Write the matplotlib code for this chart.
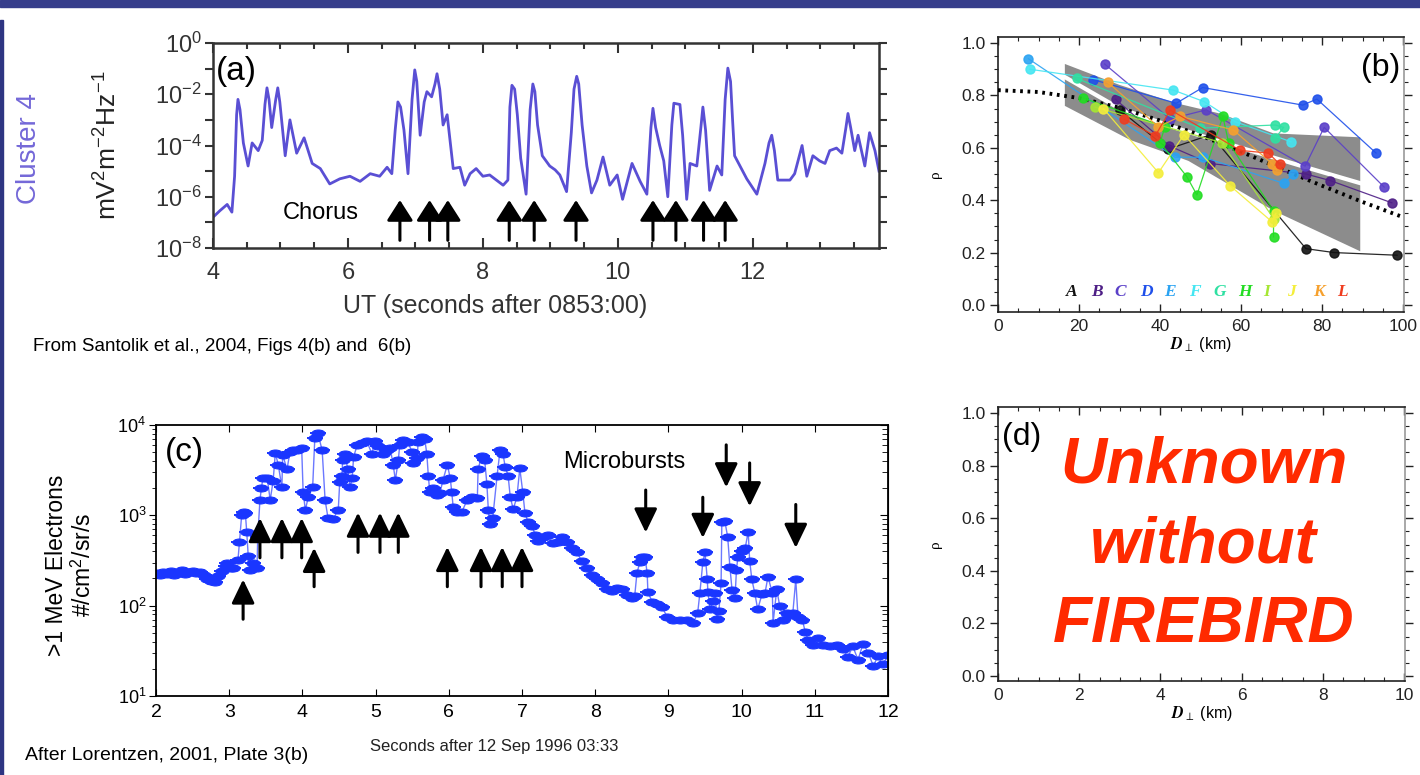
import numpy as np
import matplotlib.pyplot as plt
from matplotlib import ticker
from matplotlib.path import Path
from matplotlib.patches import Rectangle

plt.rcParams['font.family'] = ['Liberation Sans', 'DejaVu Sans']
plt.rcParams['mathtext.fontset'] = 'stix'

# ---- panel (a): Cluster 4 chorus wave power, (UT s, log10 mV^2 m^-2 Hz^-1)
a_trace = [(4.00, -6.8), (4.10, -6.55), (4.21, -6.3), (4.28, -6.6), (4.32, -5.2),
           (4.35, -2.8), (4.37, -2.2), (4.40, -2.6), (4.45, -3.9), (4.52, -4.8),
           (4.58, -3.9), (4.67, -4.2), (4.73, -3.8), (4.77, -2.4), (4.80, -1.75),
           (4.83, -2.2), (4.87, -3.3), (4.93, -2.2), (4.96, -1.75), (4.99, -2.3),
           (5.07, -4.4), (5.14, -3.0), (5.24, -4.3), (5.35, -3.7), (5.47, -4.7),
           (5.59, -4.9), (5.73, -5.5), (5.88, -5.3), (6.03, -5.2), (6.18, -5.4),
           (6.33, -5.1), (6.47, -5.2), (6.58, -4.85), (6.65, -5.1), (6.70, -3.4),
           (6.74, -2.3), (6.78, -2.5), (6.83, -3.4), (6.89, -5.1), (6.95, -2.2),
           (6.99, -1.05), (7.02, -1.5), (7.07, -3.6), (7.13, -2.3), (7.17, -1.9),
           (7.24, -2.1), (7.29, -1.6), (7.32, -1.2), (7.36, -1.8), (7.41, -3.2),
           (7.47, -2.8), (7.56, -4.9), (7.66, -4.85), (7.73, -5.55), (7.81, -5.1),
           (7.90, -4.9), (8.00, -5.2), (8.10, -5.15), (8.30, -5.55), (8.37, -5.35),
           (8.40, -2.5), (8.43, -1.65), (8.47, -1.8), (8.51, -2.8), (8.56, -4.5),
           (8.64, -5.9), (8.70, -2.6), (8.74, -1.6), (8.77, -1.9), (8.81, -3.2),
           (8.88, -4.4), (8.99, -4.8), (9.07, -4.95), (9.14, -5.15), (9.24, -5.8),
           (9.31, -3.5), (9.35, -1.8), (9.39, -1.3), (9.42, -1.6), (9.47, -3.2),
           (9.54, -4.8), (9.61, -5.85), (9.69, -5.35), (9.78, -4.45), (9.88, -5.55),
           (9.99, -5.15), (10.07, -6.1), (10.21, -4.7), (10.33, -5.4), (10.43, -5.9),
           (10.49, -3.3), (10.52, -2.55), (10.56, -3.3), (10.62, -4.0), (10.68, -4.6),
           (10.74, -6.0), (10.80, -3.2), (10.83, -2.35), (10.92, -2.4), (10.96, -3.6),
           (11.02, -6.1), (11.07, -4.7), (11.17, -4.8), (11.23, -3.3), (11.26, -2.5),
           (11.30, -3.4), (11.36, -5.75), (11.47, -4.8), (11.54, -5.15), (11.59, -2.2),
           (11.63, -0.98), (11.67, -1.5), (11.70, -3.0), (11.73, -4.4), (11.91, -5.3),
           (12.06, -5.9), (12.18, -4.7), (12.24, -3.9), (12.28, -3.6), (12.32, -4.2),
           (12.37, -5.35), (12.55, -5.35), (12.62, -5.1), (12.73, -4.0), (12.80, -5.2),
           (12.89, -4.4), (12.99, -4.6), (13.07, -4.7), (13.14, -4.2), (13.24, -4.1),
           (13.32, -4.3), (13.38, -3.3), (13.41, -2.75), (13.45, -3.3), (13.51, -4.2),
           (13.56, -3.6), (13.66, -4.8), (13.73, -3.5), (13.81, -4.2), (13.87, -5.0)]
t_a = [p[0] for p in a_trace]
lg_a = [p[1] for p in a_trace]
chorus_t = [6.77, 7.21, 7.48, 8.39, 8.76, 9.38, 10.52, 10.86, 11.27, 11.59]
chorus_tip = 10.0 ** -6.13
chorus_tail = 10.0 ** -7.7

# ---- panel (b): correlation vs separation, events A-L
ev_names = ['A', 'B', 'C', 'D', 'E', 'F', 'G', 'H', 'I', 'J', 'K', 'L']
ev_colors = ['#111111', '#4e1f86', '#5a3fc8', '#1f50ea', '#2ba3f2', '#45e6f2',
             '#2fe0a2', '#22dd22', '#a6e633', '#f4ee3a', '#f6a12e', '#f03c1e']
ev_x = [[30, 42, 52.5, 76, 83, 98.5],
        [29, 42.3, 52.3, 76, 82, 97.2],
        [26.3, 42.5, 51.4, 75.8, 80.5, 95.3],
        [23.5, 44, 50.5, 75.2, 78.7, 93.3],
        [7.5, 43.7, 50.7, 70.6, 72.9],
        [7.8, 43.3, 50.9, 58.5, 72.3],
        [19.4, 49.9, 68.4, 70.5, 68.4],
        [21, 41.2, 40, 46.6, 49.1, 55.5, 56.9, 68, 68],
        [24, 55.2, 68],
        [26, 39.6, 45.9, 57.3, 67.6, 68.6],
        [27.1, 39.6, 45, 58.1, 67.6, 68.8],
        [31.1, 38.8, 42.5, 59.8, 66.7, 69.6]]
ev_y = [[0.745, 0.595, 0.65, 0.215, 0.20, 0.19],
        [0.785, 0.607, 0.54, 0.50, 0.475, 0.39],
        [0.92, 0.71, 0.745, 0.53, 0.678, 0.45],
        [0.86, 0.77, 0.83, 0.763, 0.786, 0.58],
        [0.94, 0.564, 0.564, 0.464, 0.50],
        [0.90, 0.82, 0.776, 0.70, 0.623],
        [0.865, 0.675, 0.687, 0.678, 0.636],
        [0.79, 0.68, 0.62, 0.49, 0.42, 0.72, 0.62, 0.36, 0.26],
        [0.755, 0.62, 0.33],
        [0.75, 0.505, 0.65, 0.455, 0.318, 0.35],
        [0.85, 0.68, 0.72, 0.668, 0.54, 0.515],
        [0.71, 0.645, 0.745, 0.59, 0.58, 0.537]]
band_x = [16.5, 30, 44, 55, 68, 89.4, 89.4, 68, 47, 41.7, 32.6, 16.5]
band_y = [0.92, 0.84, 0.77, 0.73, 0.655, 0.64, 0.205, 0.36, 0.55, 0.58, 0.63, 0.76]
mid_x = [16.5, 30, 45, 60, 75, 89.4]
mid_y = [0.87, 0.75, 0.67, 0.60, 0.53, 0.465]
fit_x = [0, 10, 20, 30, 40, 50, 60, 70, 80, 90, 100]
fit_y = [0.82, 0.813, 0.79, 0.753, 0.704, 0.647, 0.585, 0.519, 0.455, 0.393, 0.335]
lab_x = [18.2, 24.4, 30.1, 36.7, 42.5, 48.6, 54.8, 61, 66.3, 72.5, 79.1, 84.9]

# ---- panel (c): >1 MeV electrons (log10 of #/cm2/sr/s)
t_c = [2.00, 2.05, 2.10, 2.15, 2.20, 2.25, 2.30, 2.35, 2.40, 2.45, 2.50, 2.55, 2.60, 2.65,
       2.70, 2.75, 2.80, 2.85, 2.90, 2.95, 2.97, 3.02, 3.05, 3.12, 3.14, 3.17, 3.20, 3.22,
       3.24, 3.26, 3.28, 3.33, 3.38, 3.39, 3.42, 3.44, 3.46, 3.52, 3.56, 3.60, 3.63, 3.67,
       3.72, 3.73, 3.79, 3.83, 3.87, 3.93, 3.99, 4.01, 4.04, 4.08, 4.14, 4.17, 4.21, 4.27,
       4.31, 4.35, 4.42, 4.49, 4.51, 4.54, 4.55, 4.58, 4.62, 4.65, 4.68, 4.70, 4.75, 4.81,
       4.88, 4.95, 4.99, 5.03, 5.10, 5.16, 5.20, 5.24, 5.27, 5.31, 5.33, 5.37, 5.44, 5.50,
       5.51, 5.57, 5.58, 5.63, 5.67, 5.70, 5.72, 5.74, 5.78, 5.84, 5.88, 5.92, 5.98, 6.02,
       6.04, 6.06, 6.11, 6.18, 6.25, 6.32, 6.39, 6.40, 6.45, 6.49, 6.52, 6.54, 6.56, 6.60,
       6.66, 6.70, 6.74, 6.77, 6.81, 6.84, 6.88, 6.93, 6.97, 7.01, 7.04, 7.08, 7.14, 7.18,
       7.22, 7.29, 7.36, 7.42, 7.49, 7.55, 7.61, 7.68, 7.75, 7.82, 7.89, 7.96, 8.02, 8.09,
       8.16, 8.23, 8.30, 8.37, 8.43, 8.50, 8.54, 8.57, 8.61, 8.64, 8.68, 8.71, 8.72, 8.78,
       8.84, 8.91, 8.98, 9.06, 9.16, 9.25, 9.34, 9.40, 9.43, 9.47, 9.50, 9.53, 9.54, 9.57,
       9.61, 9.64, 9.66, 9.69, 9.72, 9.73, 9.77, 9.81, 9.84, 9.87, 9.91, 9.93, 9.95, 10.01,
       10.05, 10.09, 10.11, 10.14, 10.18, 10.22, 10.28, 10.32, 10.36, 10.42, 10.43, 10.48,
       10.52, 10.57, 10.62, 10.66, 10.70, 10.74, 10.77, 10.83, 10.87, 10.91, 10.98, 11.04,
       11.11, 11.21, 11.30, 11.39, 11.45, 11.52, 11.59, 11.66, 11.73, 11.80, 11.86, 11.93,
       12.00]
lg_c = [2.36, 2.34, 2.37, 2.35, 2.38, 2.34, 2.36, 2.39, 2.35, 2.37, 2.38, 2.36, 2.37, 2.34,
        2.30, 2.27, 2.26, 2.33, 2.38, 2.44, 2.47, 2.42, 2.42, 2.51, 2.70, 3.00, 3.04, 3.03,
        2.81, 2.55, 2.40, 2.47, 2.42, 2.76, 3.17, 3.30, 3.41, 3.41, 3.17, 3.38, 3.69, 3.56,
        3.31, 3.67, 3.51, 3.70, 3.72, 3.72, 3.75, 3.26, 3.06, 3.20, 3.31, 3.86, 3.91, 3.72,
        3.17, 2.97, 2.96, 3.06, 3.37, 3.44, 3.61, 3.68, 3.51, 3.31, 3.41, 3.65, 3.78,
        3.80, 3.82, 3.68, 3.82, 3.77, 3.68, 3.72, 3.74, 3.56, 3.39, 3.61, 3.78, 3.83, 3.81,
        3.70, 3.58, 3.64, 3.81, 3.87, 3.85, 3.68, 3.44, 3.26, 3.30, 3.22, 3.25, 3.39, 3.56,
        3.41, 3.26, 3.09, 3.04, 3.04, 3.17, 3.20, 3.19, 3.51, 3.66, 3.61, 3.35, 3.06, 2.90,
        2.97, 3.44, 3.72, 3.68, 3.54, 3.44, 3.20, 3.07, 3.20, 3.52, 3.26, 3.03, 2.93, 2.88,
        2.78, 2.72, 2.76, 2.78, 2.69, 2.70, 2.76, 2.71, 2.64, 2.59, 2.49, 2.42, 2.34, 2.29,
        2.25, 2.18, 2.16, 2.20, 2.18, 2.12, 2.09, 2.11, 2.36, 2.48, 2.54, 2.54, 2.36, 2.15,
        2.04, 2.02, 1.99, 1.88, 1.84, 1.84, 1.84, 1.81, 1.92, 2.14, 2.48, 2.59, 2.30, 2.15,
        1.96, 2.05, 2.14, 1.85, 1.94, 2.25, 2.93, 2.94, 2.76, 2.43, 2.17, 2.09, 2.40, 2.54,
        2.61, 2.64, 2.82, 2.50, 2.29, 2.14, 1.96, 2.13, 2.14, 2.32, 2.14, 1.81, 2.18,
        2.00, 1.84, 1.92, 1.90, 1.92, 2.29, 1.88, 1.84, 1.71, 1.62, 1.57, 1.64,
        1.57, 1.55, 1.57, 1.52, 1.43, 1.55, 1.40, 1.58, 1.48, 1.33, 1.44, 1.35,
        1.45]
up_t = [3.19, 3.42, 3.72, 3.99, 4.16, 4.76, 5.06, 5.31, 5.98, 6.44, 6.73, 7.00]
up_tip = [2.29, 2.97, 2.97, 2.97, 2.64, 3.03, 3.03, 3.03, 2.65, 2.65, 2.65, 2.65]
up_tail = [1.85, 2.53, 2.53, 2.53, 2.21, 2.59, 2.59, 2.59, 2.21, 2.21, 2.21, 2.21]
down_t = [8.69, 9.47, 9.79, 10.11, 10.74]
down_tail = [3.28, 3.20, 3.78, 3.58, 3.12]
down_tip = [2.81, 2.75, 3.31, 3.10, 2.64]

fig = plt.figure(figsize=(14.2, 7.75), dpi=100)
W, H = 1420.0, 775.0


def box(l, t, r, b):
    return [l / W, 1 - b / H, (r - l) / W, (b - t) / H]


# slide decoration
fig.add_artist(Rectangle((0, 1 - 7 / H), 1, 7 / H, transform=fig.transFigure,
                         color='#363d8b', zorder=10))
fig.add_artist(Rectangle((0, 0), 2.5 / W, 1 - 20 / H, transform=fig.transFigure,
                         color='#2e3582', zorder=10))

# ---------------- (a)
axa = fig.add_axes(box(213, 43, 879, 248))
axa.plot(t_a, 10.0 ** np.array(lg_a), color='#5a4fd4', lw=2.0)
axa.set_yscale('log')
axa.set_ylim(1e-8, 1)
axa.set_xlim(4, 13.87)
axa.yaxis.set_major_locator(ticker.LogLocator(base=10, numticks=20))
axa.yaxis.set_minor_locator(ticker.NullLocator())


def fmt_a(v, pos):
    e = int(round(np.log10(v)))
    return r'$\mathdefault{10^{%d}}$' % e if e % 2 == 0 else ''


axa.yaxis.set_major_formatter(ticker.FuncFormatter(fmt_a))
axa.xaxis.set_major_locator(ticker.MultipleLocator(2))
axa.xaxis.set_minor_locator(ticker.MultipleLocator(0.5))
axa.tick_params(axis='x', which='both', direction='in', top=True, labelsize=17,
                colors='#333333', pad=10)
axa.tick_params(axis='x', which='major', length=7, width=1.5)
axa.tick_params(axis='x', which='minor', length=4, width=1.5)
axa.tick_params(axis='y', direction='out', right=True, labelsize=17, length=6,
                width=1.5, colors='#333333', pad=2)
for s in axa.spines.values():
    s.set_linewidth(1.8)
    s.set_color('#333333')
for x in chorus_t:
    axa.annotate('', xy=(x, chorus_tip), xytext=(x, chorus_tail),
                 arrowprops=dict(arrowstyle='-|>,head_length=1.25,head_width=0.8',
                                 color='black', lw=2.2, shrinkA=0, shrinkB=0))
axa.text(0.104, 0.17, 'Chorus', transform=axa.transAxes, fontsize=17,
         ha='left', va='center')
axa.text(0.004, 0.86, '(a)', transform=axa.transAxes, fontsize=24,
         ha='left', va='center')
fig.text(29 / W, 1 - 148 / H, 'Cluster 4', rotation=90, fontsize=20,
         color='#7468d8', ha='center', va='center')
fig.text(108 / W, 1 - 145 / H, r'$\mathdefault{mV^{2}m^{-2}Hz^{-1}}$', rotation=90,
         fontsize=19, color='#222222', ha='center', va='center')
fig.text(495 / W, 1 - 306 / H, 'UT (seconds after 0853:00)', fontsize=18,
         color='#333333', ha='center', va='center')
fig.text(33 / W, 1 - 346 / H, 'From Santolik et al., 2004, Figs 4(b) and  6(b)',
         fontsize=13.5, ha='left', va='center')


# ---------------- (b) and (d) common styling
def style_rho(ax, xlabels):
    ax.set_xlim(0, 100.2)
    ax.set_xticks([0, 20, 40, 60, 80, 100])
    ax.set_xticklabels(xlabels)
    ax.xaxis.set_minor_locator(ticker.MultipleLocator(5))
    ax.yaxis.set_major_locator(ticker.MultipleLocator(0.2))
    ax.yaxis.set_minor_locator(ticker.MultipleLocator(0.05))
    ax.yaxis.set_major_formatter(ticker.FormatStrFormatter('%.1f'))
    ax.tick_params(axis='x', which='both', direction='in', top=True, labelsize=12.5,
                   colors='#222222', pad=5)
    ax.tick_params(axis='y', which='both', direction='out', right=True, labelsize=12.5,
                   colors='#222222', pad=3)
    ax.tick_params(which='major', length=6, width=1)
    ax.tick_params(which='minor', length=3, width=0.8)
    for s in ax.spines.values():
        s.set_linewidth(1.2)
        s.set_color('#222222')
    ax.spines['right'].set_color('#999999')
    ax.set_ylabel('ρ', family=['Liberation Serif', 'DejaVu Serif'], fontsize=11,
                  labelpad=14)
    ax.set_xlabel(r'$\mathbfit{D}_{\perp}$ (km)', fontsize=11.5, labelpad=1)


axb = fig.add_axes(box(998, 37, 1404, 312))
style_rho(axb, ['0', '20', '40', '60', '80', '100'])
axb.set_ylim((305 - 312) / 262, (305 - 37) / 262)
axb.fill(band_x, band_y, color='#8c8c8c', lw=0, zorder=1)
axb.plot(mid_x, mid_y, color='white', lw=3, zorder=2)
axb.plot(fit_x, fit_y, color='black', lw=2.8, ls=(0, (0.7, 1.2)), zorder=3)
for xs, ys, c in zip(ev_x, ev_y, ev_colors):
    axb.plot(xs, ys, color=c, lw=0.9, marker='o', ms=6.5, mec=c, mfc=c,
             alpha=0.9, zorder=4)
for x, n, c in zip(lab_x, ev_names, ev_colors):
    axb.text(x, 0.05, n, color=c, fontsize=12.5, fontweight='bold', fontstyle='italic',
             family=['Liberation Serif', 'DejaVu Serif'], ha='center', va='center')
axb.text(0.99, 0.887, '(b)', transform=axb.transAxes, fontsize=23,
         ha='right', va='center')

# ---------------- (d)
axd = fig.add_axes(box(998, 407, 1405, 681))
style_rho(axd, ['0', '2', '4', '6', '8', '10'])
axd.set_ylim((676 - 681) / 263, (676 - 407) / 263)
axd.text(0.01, 0.89, '(d)', transform=axd.transAxes, fontsize=23,
         ha='left', va='center')
for line, yb in zip(['Unknown', 'without', 'FIREBIRD'], [0.726, 0.431, 0.142]):
    axd.text(0.505, yb, line, transform=axd.transAxes, fontsize=46,
             fontweight='bold', fontstyle='italic', color='#ff2a00',
             ha='center', va='baseline')

# ---------------- (c)
axc = fig.add_axes(box(156, 425, 888, 696))
vals_c = 10.0 ** np.array(lg_c)
circ = Path.unit_circle()
ell = Path(circ.vertices * [1.9, 1.0], circ.codes)
axc.plot(t_c, vals_c, color='#6b78ff', lw=1.0, marker=ell, ms=9.5,
         mfc='#1a36ff', mec='#1a36ff', mew=0.8)
axc.plot(t_c, vals_c, ls='none', marker='_', ms=12, mew=1.4, color='#1a36ff')
axc.set_yscale('log')
axc.set_ylim(10, 1e4)
axc.set_xlim(2, 12)
axc.xaxis.set_major_locator(ticker.MultipleLocator(1))
axc.tick_params(axis='x', direction='in', top=True, labelsize=14, length=5, pad=6)
axc.tick_params(axis='y', which='both', direction='out', labelsize=13, pad=2)
axc.tick_params(axis='y', which='major', length=5)
axc.tick_params(axis='y', which='minor', length=3)
sec = axc.secondary_yaxis('right')
sec.tick_params(axis='y', which='both', direction='in', labelright=False)
sec.tick_params(axis='y', which='major', length=6)
sec.tick_params(axis='y', which='minor', length=4)
sec.yaxis.set_major_formatter(ticker.NullFormatter())
sec.yaxis.set_minor_formatter(ticker.NullFormatter())
for s in axc.spines.values():
    s.set_linewidth(1.3)
for x, a, b in zip(up_t, up_tip, up_tail):
    axc.annotate('', xy=(x, 10.0 ** a), xytext=(x, 10.0 ** b),
                 arrowprops=dict(arrowstyle='-|>,head_length=1.45,head_width=0.7',
                                 color='black', lw=2.2, shrinkA=0, shrinkB=0))
for x, a, b in zip(down_t, down_tip, down_tail):
    axc.annotate('', xy=(x, 10.0 ** a), xytext=(x, 10.0 ** b),
                 arrowprops=dict(arrowstyle='-|>,head_length=1.45,head_width=0.7',
                                 color='black', lw=2.2, shrinkA=0, shrinkB=0))
axc.text(0.012, 0.90, '(c)', transform=axc.transAxes, fontsize=24,
         ha='left', va='center')
axc.text(0.556, 0.863, 'Microbursts', transform=axc.transAxes, fontsize=17,
         ha='left', va='center')
fig.text(70 / W, 1 - 565 / H, '>1 MeV Electrons\n#/cm$^{\\mathdefault{2}}$/sr/s',
         rotation=90, fontsize=16.5, ha='center', va='center', multialignment='center')
fig.text(494 / W, 1 - 747 / H, 'Seconds after 12 Sep 1996 03:33', fontsize=12,
         ha='center', va='center', color='#222222')
fig.text(25 / W, 1 - 755 / H, 'After Lorentzen, 2001, Plate 3(b)', fontsize=14,
         ha='left', va='center')

fig.savefig('out.png', dpi=100)
